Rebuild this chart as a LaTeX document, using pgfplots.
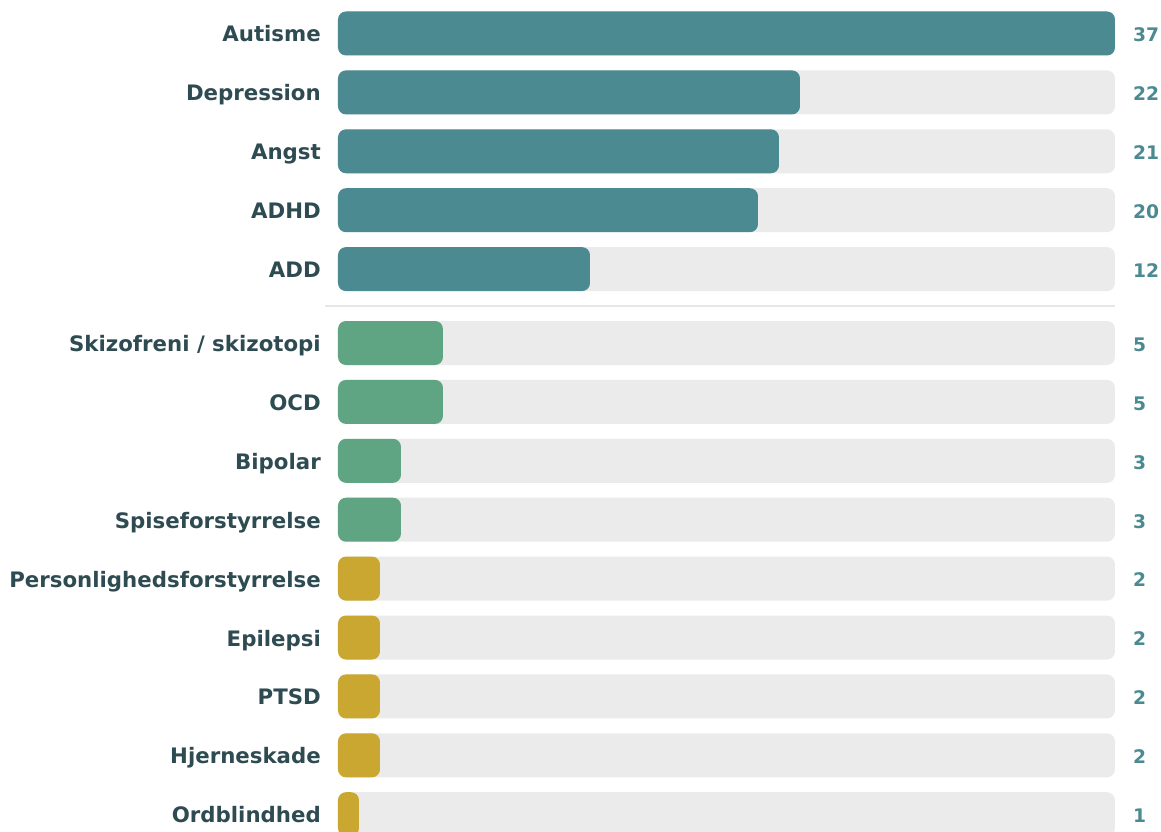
\documentclass[border=0pt]{standalone}
\usepackage{pgfplots}
\pgfplotsset{compat=1.18}
\usepackage{fontspec}
\setmainfont{DejaVu Sans}
\definecolor{teal1}{HTML}{4A8A90}
\definecolor{green1}{HTML}{5FA583}
\definecolor{gold1}{HTML}{C9A731}
\definecolor{track}{HTML}{EBEBEB}
\definecolor{lab}{HTML}{2F4B52}
\definecolor{sep}{HTML}{E4E8E9}
\begin{document}
\begin{tikzpicture}
\path[use as bounding box] (0,0) rectangle (1161bp,832bp);
\begin{axis}[
  at={(0,0)}, anchor=south west,
  scale only axis, width=1161bp, height=832bp,
  xmin=-16.0952, xmax=39.1905,
  ymin=0, ymax=832, y dir=reverse,
  hide axis, clip=false,
  xbar, bar width=44,
  every axis plot/.append style={bar shift=0pt},
  every node near coord/.append style={font=\fontsize{21.3bp}{25bp}\selectfont\bfseries, inner sep=0pt},
]
% separator
\addplot[sharp plot, draw=sep, line width=2bp, mark=none] coordinates {(-0.62,305.5) (37,305.5)};
% tracks with value labels
\addplot[xbar, bar shift=0pt, fill=track, draw=none, rounded corners=8bp,
  point meta=explicit symbolic, nodes near coords={\pgfplotspointmeta},
  nodes near coords style={anchor=base west, xshift=18bp, yshift=-8.3bp, text=teal1,
    font=\fontsize{18.7bp}{22bp}\selectfont\bfseries}]
  coordinates {
  (37,33.5) [37]
  (37,92.4) [22]
  (37,151.3) [21]
  (37,210.2) [20]
  (37,269.1) [12]
  (37,343.0) [5]
  (37,401.9) [5]
  (37,460.8) [3]
  (37,519.7) [3]
  (37,578.6) [2]
  (37,637.5) [2]
  (37,696.4) [2]
  (37,755.3) [2]
  (37,814.2) [1]
  };
% teal group
\addplot[xbar, bar shift=0pt, fill=teal1, draw=none, rounded corners=8bp] coordinates {
  (37,33.5) (22,92.4) (21,151.3) (20,210.2) (12,269.1)};
% green group
\addplot[xbar, bar shift=0pt, fill=green1, draw=none, rounded corners=8bp] coordinates {
  (5,343.0) (5,401.9) (3,460.8) (3,519.7)};
% gold group
\addplot[xbar, bar shift=0pt, fill=gold1, draw=none, rounded corners=8bp] coordinates {
  (2,578.6) (2,637.5) (2,696.4) (2,755.3) (1,814.2)};
% category labels
\addplot[xbar, bar shift=0pt, draw=none, fill=none,
  point meta=explicit symbolic, nodes near coords={\pgfplotspointmeta},
  nodes near coords style={anchor=base east, xshift=-17bp, yshift=-8.5bp, text=lab}]
  coordinates {
  (0,33.5) [Autisme]
  (0,92.4) [Depression]
  (0,151.3) [Angst]
  (0,210.2) [ADHD]
  (0,269.1) [ADD]
  (0,343.0) [Skizofreni / skizotopi]
  (0,401.9) [OCD]
  (0,460.8) [Bipolar]
  (0,519.7) [Spiseforstyrrelse]
  (0,578.6) [Personlighedsforstyrrelse]
  (0,637.5) [Epilepsi]
  (0,696.4) [PTSD]
  (0,755.3) [Hjerneskade]
  (0,814.2) [Ordblindhed]
  };
\end{axis}
\end{tikzpicture}
\end{document}
